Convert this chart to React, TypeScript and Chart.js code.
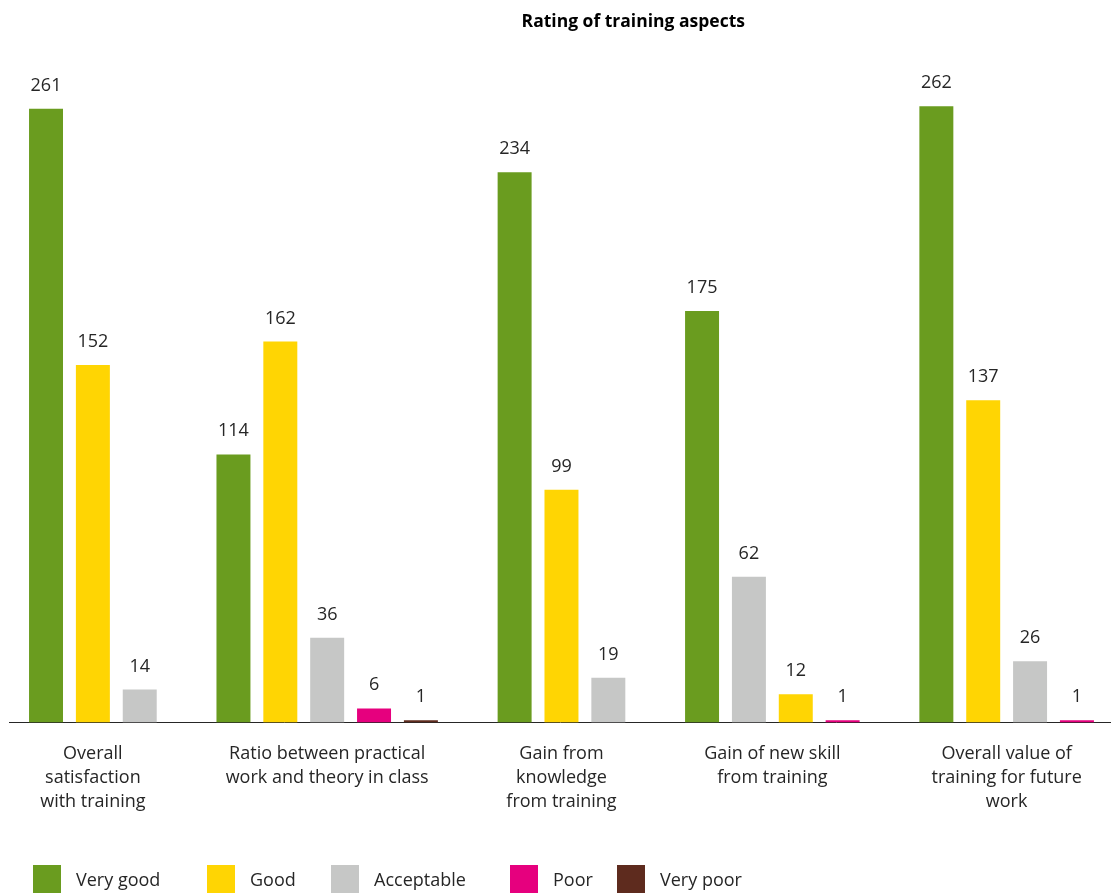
import { useEffect, useRef } from "react";
import { Chart, registerables } from "chart.js";

Chart.register(...registerables);

const chartTitle = "Rating of training aspects";
const groupLabels = [
  ["Overall", "satisfaction", "with training"],
  ["Ratio between practical", "work and theory in class"],
  ["Gain from", "knowledge", "from training"],
  ["Gain of new skill", "from training"],
  ["Overall value of", "training for future", "work"],
];
const seriesNames = ["Very good", "Good", "Acceptable", "Poor", "Very poor"];
const veryGood = [261, 114, 234, 175, 262];
const good = [152, 162, 99, 12, 137];
const acceptable = [14, 36, 19, 62, 26];
const poor = [0, 6, 0, 1, 1];
const veryPoor = [0, 1, 0, 0, 0];
// order in which the series appear inside each group (indices into seriesNames)
const barOrder = [
  [0, 1, 2, 3, 4],
  [0, 1, 2, 3, 4],
  [0, 1, 2, 3, 4],
  [0, 2, 1, 3, 4],
  [0, 1, 2, 3, 4],
];

const seriesColors = ["#6a9c1f", "#ffd503", "#c6c7c6", "#e6007e", "#5e2b1e"];
const legendBoxX = [33, 207, 331, 510, 617];
const textColor = "#262626";
const FONT = "'Open Sans', 'Noto Sans', sans-serif";

function buildLayout() {
  const values = [veryGood, good, acceptable, poor, veryPoor];
  const points: { x: number; y: number }[][] = seriesNames.map(() => []);
  const centers: number[] = [];
  let slot = 0;
  barOrder.forEach((order, g) => {
    const first = slot;
    order.forEach((s) => {
      const v = values[s][g];
      if (v > 0) {
        points[s].push({ x: slot, y: v });
        slot++;
      }
    });
    centers.push((first + slot - 1) / 2);
    slot++;
  });
  return { points, centers };
}

const titlePlugin = {
  id: "customTitle",
  afterDraw(chart: any) {
    const ctx = chart.ctx;
    ctx.save();
    ctx.font = `bold 17.5px ${FONT}`;
    ctx.fillStyle = "#000";
    ctx.textAlign = "center";
    ctx.textBaseline = "middle";
    ctx.fillText(chartTitle, chart.width * 0.57, 22);
    ctx.restore();
  },
};

const valueLabelPlugin = {
  id: "valueLabels",
  afterDatasetsDraw(chart: any) {
    const ctx = chart.ctx;
    ctx.save();
    ctx.font = `18px ${FONT}`;
    ctx.fillStyle = textColor;
    ctx.textAlign = "center";
    ctx.textBaseline = "alphabetic";
    chart.data.datasets.forEach((ds: any, i: number) => {
      const meta = chart.getDatasetMeta(i);
      meta.data.forEach((el: any, j: number) => {
        ctx.fillText(String(ds.data[j].y), el.x, el.y - 18);
      });
    });
    ctx.restore();
  },
};

const legendPlugin = {
  id: "customLegend",
  afterDraw(chart: any) {
    const ctx = chart.ctx;
    ctx.save();
    ctx.font = `18px ${FONT}`;
    ctx.textAlign = "left";
    ctx.textBaseline = "middle";
    const top = chart.height - 28;
    chart.data.datasets.forEach((ds: any, i: number) => {
      const x = legendBoxX[i];
      ctx.fillStyle = ds.backgroundColor;
      ctx.fillRect(x, top, 28, 28);
      ctx.fillStyle = textColor;
      ctx.fillText(ds.label, x + 28 + 15, top + 16);
    });
    ctx.restore();
  },
};

export default function App() {
  const canvasRef = useRef<HTMLCanvasElement | null>(null);

  useEffect(() => {
    if (!canvasRef.current) return;
    const { points, centers } = buildLayout();
    const chart = new Chart(canvasRef.current, {
      type: "bar",
      data: {
        datasets: seriesNames.map((name, i) => ({
          label: name,
          data: points[i],
          backgroundColor: seriesColors[i],
          grouped: false,
          categoryPercentage: 1,
          barPercentage: 0.725,
        })),
      },
      options: {
        animation: false,
        responsive: true,
        maintainAspectRatio: false,
        layout: { padding: { top: 64, left: 9, right: 0, bottom: 0 } },
        plugins: {
          legend: { display: false },
          title: { display: false },
          tooltip: { enabled: false },
        },
        scales: {
          x: {
            type: "linear",
            min: -0.79,
            max: 22.727,
            offset: false,
            grid: { display: false },
            border: { display: true, color: textColor, width: 1 },
            afterBuildTicks: (scale: any) => {
              scale.ticks = centers.map((v) => ({ value: v }));
            },
            afterFit: (scale: any) => {
              scale.height = 170.5;
            },
            ticks: {
              autoSkip: false,
              maxRotation: 0,
              minRotation: 0,
              padding: 11,
              color: textColor,
              font: { family: FONT, size: 18, lineHeight: 1.3333 },
              callback: (_v: any, index: number) => groupLabels[index],
            },
          },
          y: {
            display: false,
            min: 0,
            max: 280,
          },
        },
      },
      plugins: [titlePlugin, valueLabelPlugin, legendPlugin],
    } as any);
    return () => chart.destroy();
  }, []);

  return (
    <div style={{ position: "absolute", left: 0, top: 0, width: 1111, height: 893, background: "#fff" }}>
      <canvas ref={canvasRef} />
    </div>
  );
}
